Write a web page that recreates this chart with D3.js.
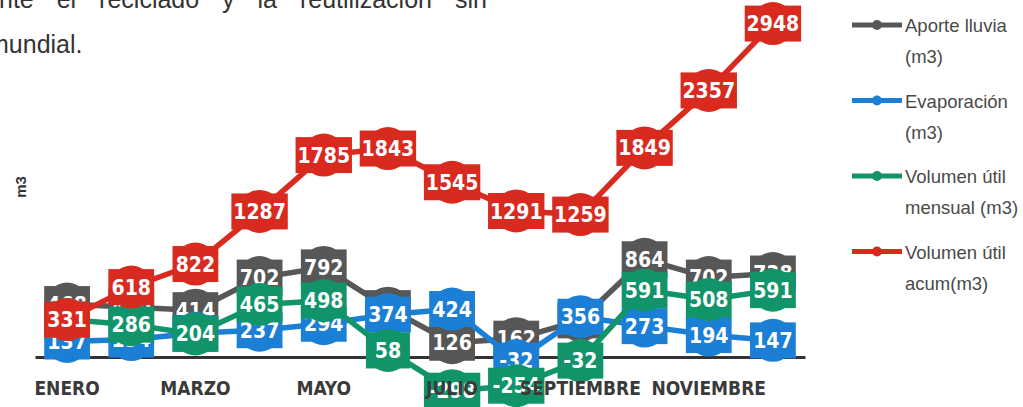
<!DOCTYPE html>
<html>
<head>
<meta charset="utf-8">
<script src="https://cdn.jsdelivr.net/npm/d3@7"></script>
<style>
  html, body { margin: 0; padding: 0; background: #fff; }
  svg { display: block; }
</style>
</head>
<body>
<svg id="chart" width="1023" height="407"></svg>
<script>
'use strict'

// months on the category axis (only every second one is labelled)
const months = ['ENERO', 'FEBRERO', 'MARZO', 'ABRIL', 'MAYO', 'JUNIO',
  'JULIO', 'AGOSTO', 'SEPTIEMBRE', 'OCTUBRE', 'NOVIEMBRE', 'DICIEMBRE']
const shownMonths = ['ENERO', 'MARZO', 'MAYO', 'JULIO', 'SEPTIEMBRE', 'NOVIEMBRE']

// series values (m3)
const aporteLluvia = [468, 440, 414, 702, 792, 432, 126, 162, 324, 864, 702, 738]
const evaporacion = [137, 154, 210, 237, 294, 374, 424, -32, 356, 273, 194, 147]
const volumenMensual = [331, 286, 204, 465, 498, 58, -298, -254, -32, 591, 508, 591]
const volumenAcum = [331, 618, 822, 1287, 1785, 1843, 1545, 1291, 1259, 1849, 2357, 2948]

const seriesNames = [['Aporte lluvia', '(m3)'], ['Evaporación', '(m3)'],
  ['Volumen útil', 'mensual (m3)'], ['Volumen útil', 'acum(m3)']]
const seriesColors = ['#575757', '#1c7fd6', '#12946a', '#d92a20']

const series = [aporteLluvia, evaporacion, volumenMensual, volumenAcum].map((values, i) => {
  return { name: seriesNames[i], color: seriesColors[i], values }
})

const svg = d3.select('#chart')
const FONT = "'Liberation Sans Narrow', 'DejaVu Sans Condensed', 'Liberation Sans', Arial, sans-serif"

// surrounding paragraph text (page the chart was cut from)
svg.append('text')
  .attr('x', -1).attr('y', 8)
  .attr('font-family', "'Liberation Sans', Arial, sans-serif")
  .attr('font-size', 25).attr('fill', '#333')
  .style('word-spacing', '16px')
  .text('nte el reciclado y la reutilización sin')
svg.append('text')
  .attr('x', -12).attr('y', 53)
  .attr('font-family', "'Liberation Sans', Arial, sans-serif")
  .attr('font-size', 25).attr('fill', '#333')
  .text('mundial.')

const x = d3.scalePoint().domain(months).range([35, 805]).padding(0.5)
const y = d3.scaleLinear().domain([0, 3000]).range([357, 17.7])

// y axis title
svg.append('text')
  .attr('transform', 'translate(26,187) rotate(-90)')
  .attr('text-anchor', 'middle')
  .attr('font-family', "'Liberation Sans', Arial, sans-serif")
  .attr('font-weight', 'bold').attr('font-size', 15).attr('fill', '#333')
  .text('m3')

// category axis sitting on zero
const axis = svg.append('g')
  .attr('transform', `translate(0,${y(0)})`)
  .call(d3.axisBottom(x).tickValues(shownMonths).tickSize(0).tickSizeOuter(0))
axis.select('.domain').attr('stroke', '#333').attr('stroke-width', 3)
axis.selectAll('.tick text').remove()

const line = d3.line()
  .x((d, i) => x(months[i]))
  .y(d => y(d))

const BOX_H = 36
const boxWidth = (v) => Math.max(44, String(v).length * 10.6 + 14)

series.forEach(s => {
  const g = svg.append('g').attr('class', 'series')
  g.append('path')
    .attr('d', line(s.values))
    .attr('fill', 'none')
    .attr('stroke', s.color)
    .attr('stroke-width', 5.5)
    .attr('stroke-linejoin', 'round')

  const pts = g.selectAll('g.pt')
    .data(s.values)
    .enter().append('g')
    .attr('class', 'pt')
    .attr('transform', (d, i) => `translate(${x(months[i])},${y(d)})`)

  // round marker peeking out above and below the label box
  pts.append('circle').attr('r', 21.5).attr('fill', s.color)

  pts.append('rect')
    .attr('x', d => -boxWidth(d) / 2)
    .attr('y', -BOX_H / 2)
    .attr('width', d => boxWidth(d))
    .attr('height', BOX_H)
    .attr('fill', s.color)

  pts.append('text')
    .attr('text-anchor', 'middle')
    .attr('dy', '0.36em')
    .attr('font-family', FONT)
    .attr('font-weight', 'bold')
    .attr('font-size', 21)
    .attr('fill', '#fff')
    .text(d => d)
})

// month labels drawn over everything
svg.append('g')
  .selectAll('text')
  .data(shownMonths)
  .enter().append('text')
  .attr('x', d => x(d))
  .attr('y', 395)
  .attr('text-anchor', 'middle')
  .attr('font-family', FONT)
  .attr('font-weight', 'bold')
  .attr('font-size', 19)
  .attr('fill', '#3a3a3a')
  .text(d => d)

// legend
const legend = svg.append('g').attr('transform', 'translate(852,25)')
const items = legend.selectAll('g.item')
  .data(series)
  .enter().append('g')
  .attr('class', 'item')
  .attr('transform', (d, i) => `translate(0,${i * 75.5})`)
items.append('line')
  .attr('x1', 0).attr('x2', 50)
  .attr('stroke', d => d.color).attr('stroke-width', 5)
items.append('circle')
  .attr('cx', 25).attr('r', 5)
  .attr('fill', d => d.color)
items.append('text')
  .attr('font-family', "'Liberation Sans', Arial, sans-serif")
  .attr('font-size', 18.5)
  .attr('fill', '#4a4a4a')
  .selectAll('tspan')
  .data(d => d.name)
  .enter().append('tspan')
  .attr('x', 53)
  .attr('y', (d, i) => 7 + i * 31)
  .text(d => d)
</script>
</body>
</html>
